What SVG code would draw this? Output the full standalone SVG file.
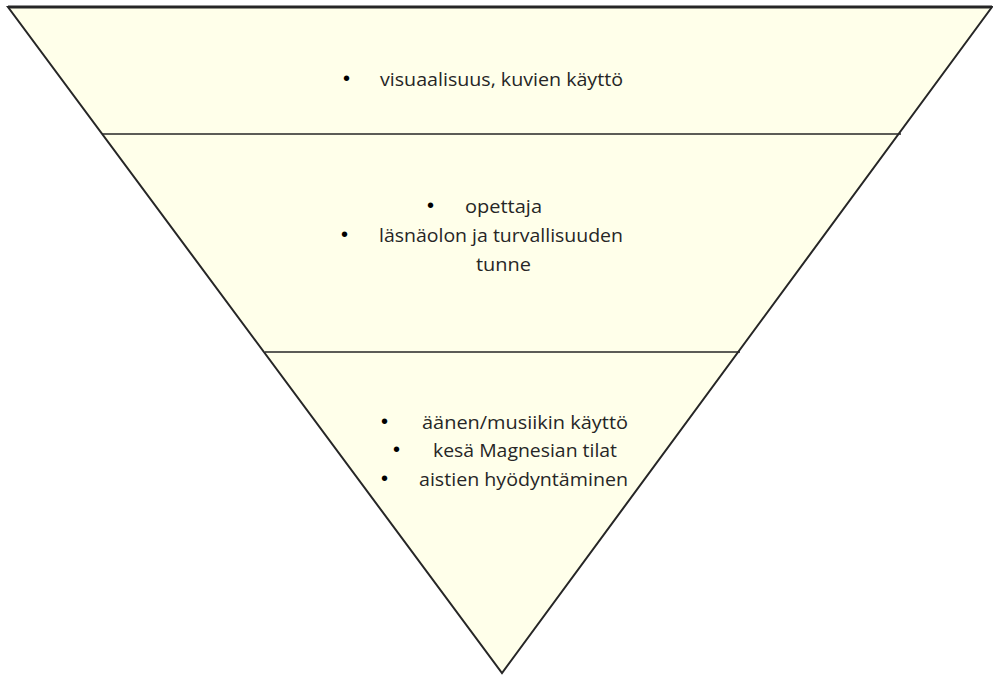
<svg xmlns="http://www.w3.org/2000/svg" width="993" height="677" viewBox="0 0 993 677">
  <style>
    .tri { fill: #FFFFEA; stroke: #262626; stroke-width: 2; stroke-linejoin: miter; }
    .sep { stroke: #262626; stroke-width: 1.3; }
    .txt { font-family: "Open Sans", "Liberation Sans", sans-serif; font-size: 18.5px; fill: #262626; }
    .dot { font-family: "Liberation Sans", sans-serif; font-size: 20px; fill: #000000; }
  </style>
  <rect width="993" height="677" fill="#FFFFFF"/>

  <!-- inverted pyramid -->
  <g id="pyramid">
    <polygon class="tri" points="8,7 992,7 502,673"/>
    <line x1="8" y1="7" x2="992" y2="7" stroke="#262626" stroke-width="3"/>
  </g>

  <!-- level separators -->
  <g id="separators">
    <line class="sep" x1="102" y1="134" x2="901" y2="134"/>
    <line class="sep" x1="265" y1="352" x2="740" y2="352"/>
  </g>

  <g id="level1">
    <text class="dot" x="343" y="85">•</text>
    <text class="txt" x="380" y="86" textLength="243" lengthAdjust="spacingAndGlyphs">visuaalisuus, kuvien käyttö</text>
  </g>

  <g id="level2">
    <text class="dot" x="427" y="212">•</text>
    <text class="txt" x="465" y="213" textLength="77" lengthAdjust="spacingAndGlyphs">opettaja</text>
    <text class="dot" x="341" y="241">•</text>
    <text class="txt" x="379" y="242" textLength="244" lengthAdjust="spacingAndGlyphs">läsnäolon ja turvallisuuden</text>
    <text class="txt" x="476" y="271" textLength="55" lengthAdjust="spacingAndGlyphs">tunne</text>
  </g>

  <g id="level3">
    <text class="dot" x="381" y="428">•</text>
    <text class="txt" x="422" y="429" textLength="206" lengthAdjust="spacingAndGlyphs">äänen/musiikin käyttö</text>
    <text class="dot" x="393" y="456">•</text>
    <text class="txt" x="433" y="457" textLength="184" lengthAdjust="spacingAndGlyphs">kesä Magnesian tilat</text>
    <text class="dot" x="381" y="485">•</text>
    <text class="txt" x="419" y="486" textLength="209" lengthAdjust="spacingAndGlyphs">aistien hyödyntäminen</text>
  </g>
</svg>
